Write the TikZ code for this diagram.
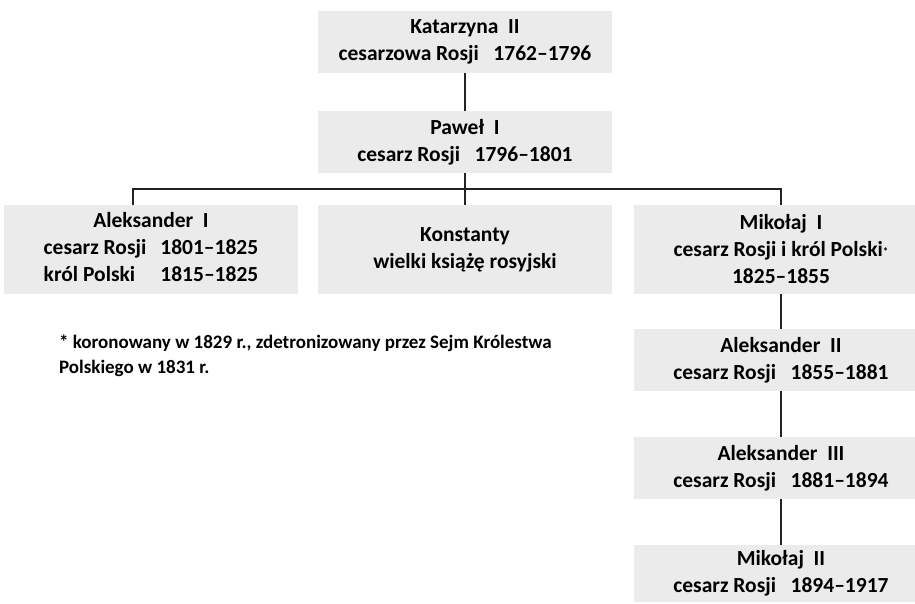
\documentclass[tikz,border=0pt]{standalone}
\usepackage{fontspec}
\setmainfont{Carlito}
\usepackage{tikz}
\usetikzlibrary{positioning}

\definecolor{boxgray}{RGB}{235,235,235}
\definecolor{linegray}{RGB}{35,35,35}

\begin{document}
\begin{tikzpicture}[x=1pt,y=1pt,
                    ruler/.style={fill=boxgray,draw=none,inner sep=0pt,outer sep=0pt,
                      minimum width=294pt,minimum height=62pt,align=center,
                      font=\bfseries\fontsize{21.5}{27}\selectfont},
                    tall/.style={minimum height=89pt},
                    line width=2.2pt,draw=linegray]
  \useasboundingbox (0,0) rectangle (915,-603);

  \node[ruler]       (K)                     at (465,-42) {Katarzyna~~II\\cesarzowa Rosji~~~1762--1796};
  \node[ruler]       (P)    [below=38pt of K]  {Pawe\l~~I\\cesarz Rosji~~~1796--1801};
  \node[ruler,tall]  (Kon)  [below=32pt of P]  {Konstanty\\wielki ksi\k{a}\.{z}\k{e} rosyjski};
  \node[ruler,tall]  (A1)   [left=20pt of Kon] {\begin{tabular}{@{}l@{\hspace{14pt}}l@{}}
                                                  \multicolumn{2}{c}{Aleksander~~I}\\
                                                  cesarz Rosji & 1801--1825\\
                                                  kr\'ol Polski & 1815--1825
                                                \end{tabular}};
  \node[ruler,tall]  (M1)   [right=22pt of Kon] {Miko\l aj~~I\\cesarz Rosji i kr\'ol Polski\raisebox{1pt}{\fontsize{11}{11}\selectfont*}\\1825--1855};
  \node[ruler]       (A2)   [below=35pt of M1] {Aleksander~~II\\cesarz Rosji~~~1855--1881};
  \node[ruler]       (A3)   [below=46pt of A2] {Aleksander~~III\\cesarz Rosji~~~1881--1894};
  \node[ruler,minimum height=57pt] (M2) [below=46pt of A3] {Miko\l aj~~II\\cesarz Rosji~~~1894--1917};

  \node[anchor=west,align=left,inner sep=0pt,
        font=\bfseries\fontsize{19}{25}\selectfont] (note) at (58,-356)
        {* koronowany w 1829 r., zdetronizowany przez Sejm Kr\'olestwa\\Polskiego w 1831 r.};

  \coordinate (bar) at ([yshift=-16pt]P.south);

  \draw (K) -- (P);
  \draw (P) -- (Kon);
  \draw ([xshift=-18pt]A1.north) |- (bar) -| (M1.north);
  \draw (M1) -- (A2);
  \draw (A2) -- (A3);
  \draw (A3) -- (M2);
\end{tikzpicture}
\end{document}
